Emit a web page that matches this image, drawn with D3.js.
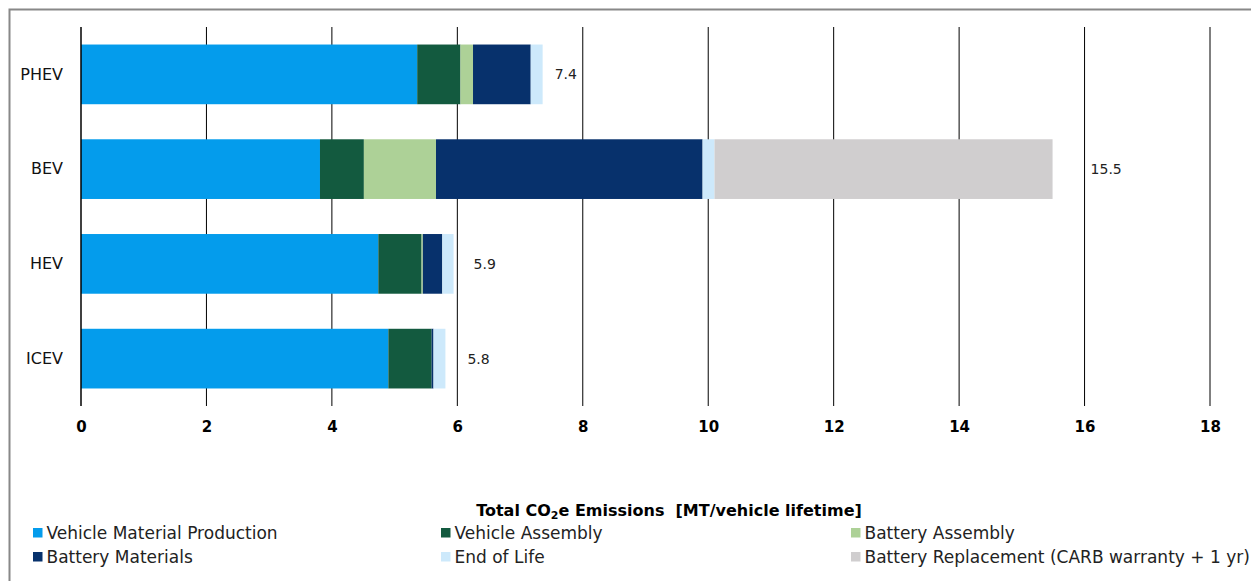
<!DOCTYPE html>
<html><head><meta charset="utf-8">
<script src="https://cdn.jsdelivr.net/npm/d3@7"></script>
<style>
html,body{margin:0;padding:0;background:#fff;}
svg{display:block;font-family:"DejaVu Sans",Verdana,sans-serif;}
</style></head>
<body>
<svg id="chart" width="1251" height="581"></svg>
<script>
const categories = ["PHEV","BEV","HEV","ICEV"];
const seriesNames = ["Vehicle Material Production","Vehicle Assembly","Battery Assembly","Battery Materials","End of Life","Battery Replacement (CARB warranty + 1 yr)"];
const vehicleMaterialProduction = [5.36, 3.81, 4.74, 4.90];
const vehicleAssembly           = [0.69, 0.70, 0.69, 0.69];
const batteryAssembly           = [0.20, 1.15, 0.02, 0.00];
const batteryMaterials          = [0.92, 4.25, 0.31, 0.03];
const endOfLife                 = [0.19, 0.19, 0.18, 0.19];
const batteryReplacement        = [0.00, 5.39, 0.00, 0.00];
const totalLabels = ["7.4","15.5","5.9","5.8"];
const xTicks = [0,2,4,6,8,10,12,14,16,18];

const colors = ["#049cec","#135a3f","#add197","#07316c","#cde9fb","#d0cecf"];
const labelPad = [12, 38, 20, 22];

const seriesValues = [vehicleMaterialProduction, vehicleAssembly, batteryAssembly, batteryMaterials, endOfLife, batteryReplacement];
const rows = categories.map((c,i)=>{
  const r = {cat:c};
  seriesNames.forEach((s,j)=> r[s] = seriesValues[j][i]);
  return r;
});

const svg = d3.select("#chart");
// outer border
svg.append("rect").attr("x",9.5).attr("y",9.5).attr("width",1260).attr("height",600)
  .attr("fill","none").attr("stroke","#888").attr("stroke-width",2);

const x = d3.scaleLinear().domain([0,18]).range([81,1210]);
const y = d3.scaleBand().domain(categories).range([27,406]).paddingInner(0.37).paddingOuter(0.185);

// gridlines
svg.append("g").selectAll("line").data(xTicks.filter(d=>d>0)).join("line")
  .attr("x1",d=>x(d)).attr("x2",d=>x(d)).attr("y1",27).attr("y2",406)
  .attr("stroke","#000").attr("stroke-width",1);

const stack = d3.stack().keys(seriesNames)(rows);
svg.append("g").selectAll("g").data(stack).join("g")
  .attr("fill",(d,i)=>colors[i])
  .selectAll("rect").data(d=>d).join("rect")
  .attr("x",d=>x(d[0])).attr("width",d=>Math.max(0,x(d[1])-x(d[0])))
  .attr("y",d=>y(d.data.cat)).attr("height",y.bandwidth());

// axis line
svg.append("line").attr("x1",x(0)).attr("x2",x(0)).attr("y1",27).attr("y2",406)
  .attr("stroke","#000").attr("stroke-width",1.5);

// x tick labels
const xAxis = d3.axisBottom(x).tickValues(xTicks).tickSize(0).tickPadding(0);
const gx = svg.append("g").attr("transform","translate(0,0)").call(xAxis);
gx.select(".domain").remove();
gx.selectAll("text").attr("y",432).attr("dy",null).attr("font-size",15).attr("font-weight","bold").attr("fill","#000")
  .attr("font-family","DejaVu Sans, Verdana, sans-serif");

// category labels
const yAxis = d3.axisLeft(y).tickSize(0).tickPadding(18);
const gy = svg.append("g").attr("transform",`translate(${x(0)},0)`).call(yAxis);
gy.select(".domain").remove();
gy.selectAll("text").attr("font-size",16).attr("fill","#111")
  .attr("font-family","DejaVu Sans, Verdana, sans-serif");

// total labels
const totals = categories.map((c,i)=>d3.sum(seriesValues,s=>s[i]));
svg.append("g").selectAll("text").data(categories).join("text")
  .attr("x",(d,i)=>x(totals[i])+labelPad[i])
  .attr("y",d=>y(d)+y.bandwidth()/2).attr("dy","0.35em")
  .attr("font-size",14).attr("fill","#222")
  .text((d,i)=>totalLabels[i]);

// axis title
const title = svg.append("text").attr("x",669).attr("y",515.5).attr("text-anchor","middle")
  .attr("font-size",16).attr("font-weight","bold").attr("fill","#000");
title.append("tspan").text("Total CO");
title.append("tspan").attr("font-size",11).attr("dy",3).text("2");
title.append("tspan").attr("dy",-3).text("e Emissions\u00a0\u00a0[MT/vehicle lifetime]");

// legend
const legX = [33, 441, 851];
const legY = [533, 557];
const lg = svg.append("g").selectAll("g").data(seriesNames).join("g")
  .attr("transform",(d,i)=>`translate(${legX[i%3]},${legY[Math.floor(i/3)]})`);
lg.append("rect").attr("x",0).attr("y",-5).attr("width",9.5).attr("height",9.5).attr("fill",(d,i)=>colors[i]);
lg.append("text").attr("x",13.5).attr("y",0).attr("dy","0.35em").attr("font-size",17).attr("fill","#222").text(d=>d);
</script>
</body></html>
